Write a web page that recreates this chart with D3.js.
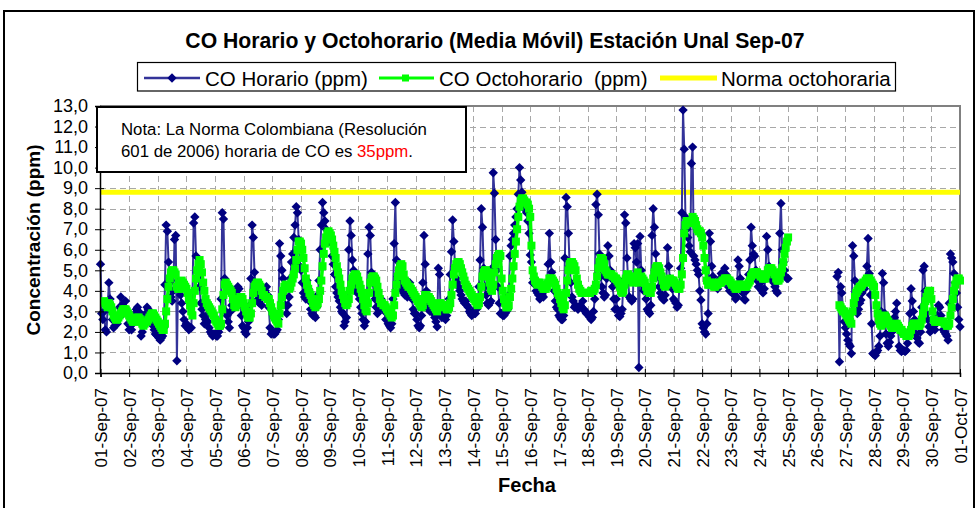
<!DOCTYPE html>
<html>
<head>
<meta charset="utf-8">
<script src="https://cdn.jsdelivr.net/npm/d3@7"></script>
<style>
  html, body { margin: 0; padding: 0; background: #fff; }
  svg { display: block; }
  text { font-family: "Liberation Sans", Arial, sans-serif; }
</style>
</head>
<body>
<svg id="chart" width="978" height="508"></svg>
<script>
// ---------------- DATA ----------------
const _ = null;
const titulo = "CO Horario y Octohorario (Media Móvil) Estación Unal Sep-07";
const serieNombres = ["CO Horario (ppm)", "CO Octohorario  (ppm)", "Norma octohoraria"];
const fechas = ["01-Sep-07","02-Sep-07","03-Sep-07","04-Sep-07","05-Sep-07","06-Sep-07","07-Sep-07","08-Sep-07","09-Sep-07","10-Sep-07",
  "11-Sep-07","12-Sep-07","13-Sep-07","14-Sep-07","15-Sep-07","16-Sep-07","17-Sep-07","18-Sep-07","19-Sep-07","20-Sep-07",
  "21-Sep-07","22-Sep-07","23-Sep-07","24-Sep-07","25-Sep-07","26-Sep-07","27-Sep-07","28-Sep-07","29-Sep-07","30-Sep-07","01-Oct-07"];
const yTicks = [0,1,2,3,4,5,6,7,8,9,10,11,12,13];
const normaOctohoraria = 8.8;

// hourly values, starting 01-Sep-07 00:00
const coHorario = [
  /*01*/ 5.3,2.9,2.6,3.0,2.1,2.0,3.2,4.4,3.6,3.0,2.6,2.2,2.3,2.5,2.4,2.8,3.2,3.7,3.3,2.9,3.2,3.5,2.9,2.4,
  /*02*/ 2.1,2.3,2.1,2.4,2.6,2.9,3.1,3.2,3.0,2.9,1.8,2.0,2.3,2.6,2.9,3.2,3.1,2.8,2.9,2.6,2.3,2.1,1.9,1.85,
  /*03*/ 1.8,1.7,1.6,1.7,1.8,2.2,4.3,7.2,6.9,5.4,4.4,3.7,3.5,4.0,6.5,6.7,0.6,4.5,4.2,3.8,3.4,3.0,2.6,2.3,
  /*04*/ 2.4,2.2,2.1,2.2,2.2,3.5,7.3,7.6,5.7,4.9,4.6,4.2,3.4,3.1,2.8,2.4,2.6,2.8,2.5,2.2,2.0,1.9,1.8,1.9,
  /*05*/ 1.9,1.8,1.8,2.0,2.2,3.6,7.8,7.5,4.6,3.0,2.8,2.5,2.2,3.0,3.3,3.5,3.7,3.9,4.0,4.2,4.1,3.4,2.8,2.3,
  /*06*/ 2.2,2.0,1.9,2.2,2.5,3.3,4.6,7.2,6.6,4.9,4.2,3.9,3.6,3.4,3.6,3.3,3.7,3.9,4.0,4.2,3.8,3.2,2.2,1.9,
  /*07*/ 2.0,1.9,1.9,2.0,2.1,2.6,6.3,5.7,5.0,4.6,3.8,3.3,2.9,3.3,3.7,4.6,5.4,5.8,6.6,7.2,8.1,7.8,6.5,5.2,
  /*08*/ 5.0,4.4,3.9,3.7,3.6,4.5,4.1,3.5,3.1,2.9,2.8,2.8,2.7,3.2,3.8,4.5,6.0,7.2,8.3,7.8,7.4,7.0,6.6,6.4,
  /*09*/ 6.4,6.5,5.7,5.3,4.8,4.2,3.9,3.7,3.5,3.2,3.0,2.9,2.3,2.5,2.7,3.5,6.0,7.4,6.7,5.5,5.0,4.6,4.2,3.9,
  /*10*/ 4.0,3.6,3.2,2.9,2.6,2.3,2.5,3.4,5.8,7.1,6.7,4.9,4.4,3.9,3.6,3.2,2.9,3.1,3.4,3.6,3.3,3.3,3.0,2.6,
  /*11*/ 2.6,2.4,2.3,2.2,2.4,3.6,6.3,8.3,5.5,4.7,4.5,4.4,4.2,4.0,3.9,3.8,4.5,3.7,4.2,4.4,4.0,3.6,3.1,2.9,
  /*12*/ 2.9,2.6,2.3,2.2,2.3,2.8,4.4,6.7,5.3,4.0,3.4,3.1,3.0,3.1,3.2,2.9,2.7,2.5,2.25,5.1,4.8,2.8,2.7,2.9,
  /*13*/ 2.7,2.6,2.8,3.1,3.6,4.8,5.9,7.45,6.4,5.2,4.6,4.4,4.2,4.0,3.8,3.6,3.5,3.4,3.5,3.3,3.2,3.0,2.9,2.8,
  /*14*/ 3.0,2.9,2.9,3.1,3.3,4.2,5.5,8.0,7.1,5.1,4.2,3.8,3.4,3.3,3.4,3.5,5.1,9.75,8.75,6.5,5.0,4.2,3.4,2.9,
  /*15*/ 2.9,2.8,2.8,2.9,3.0,3.1,3.8,5.7,6.2,6.5,6.8,7.2,7.6,8.0,8.7,10.0,9.4,8.8,8.2,8.0,8.2,7.8,7.4,6.8,
  /*16*/ 5.75,5.4,4.4,4.6,4.3,4.0,3.9,3.8,3.6,3.7,3.8,3.7,4.0,4.2,4.4,5.3,6.8,5.4,4.9,4.4,4.0,3.5,3.2,3.1,
  /*17*/ 2.8,2.7,2.6,2.6,2.8,5.6,8.55,8.1,6.8,5.2,4.4,3.7,3.5,3.2,3.3,3.2,3.1,3.2,3.3,3.2,3.5,3.1,3.0,2.9,
  /*18*/ 2.9,2.8,2.7,2.6,2.7,3.0,3.6,8.2,8.7,7.7,5.8,4.7,4.2,3.9,3.7,3.8,4.6,6.2,5.7,5.0,4.6,4.2,3.6,3.1,
  /*19*/ 3.6,3.1,2.8,2.75,2.9,3.1,4.5,7.7,7.3,5.6,4.5,3.7,3.6,3.5,3.6,6.3,6.1,5.4,6.3,0.27,6.65,5.0,4.3,4.0,
  /*20*/ 4.1,3.6,3.1,3.0,2.9,3.3,6.7,8.0,7.1,5.8,5.0,4.7,4.2,3.9,3.7,3.6,3.55,3.8,4.5,6.1,5.2,4.6,4.3,4.1,
  /*21*/ 3.6,3.5,3.4,3.2,3.3,4.2,5.1,7.8,12.8,10.9,7.6,7.0,6.6,6.2,5.9,10.2,11.0,5.7,5.5,5.3,5.0,4.8,4.0,3.55,
  /*22*/ 2.4,2.2,2.0,1.9,2.4,2.9,6.8,6.4,5.2,4.7,4.4,4.3,4.2,4.1,4.4,4.6,4.85,4.7,4.9,5.1,4.8,4.5,4.2,4.0,
  /*23*/ 4.0,3.9,3.9,3.8,3.6,3.7,5.5,5.2,4.6,4.2,3.9,3.6,3.55,4.0,4.3,4.8,5.5,7.1,6.2,5.8,5.7,5.0,4.5,4.2,
  /*24*/ 4.2,4.4,4.0,3.9,4.1,4.6,6.65,6.0,5.2,4.8,4.6,4.5,4.4,4.2,4.0,3.9,4.5,6.8,8.25,6.0,5.4,5.0,4.7,4.6,
  /*25*/ 4.6,_,_,_,_,_,_,_,_,_,_,_,_,_,_,_,_,_,_,_,_,_,_,_,
  /*26*/ _,_,_,_,_,_,_,_,_,_,_,_,_,_,_,_,_,4.7,4.9,0.55,4.2,3.9,3.1,2.5,
  /*27*/ 2.2,1.9,1.6,1.4,1.3,0.95,6.2,5.7,4.5,3.6,2.9,3.1,3.4,3.55,3.9,4.2,4.1,4.5,5.2,6.55,4.85,3.8,2.4,0.95,
  /*28*/ 0.9,0.85,1.0,1.1,1.3,1.8,3.0,4.85,4.4,2.9,1.9,1.45,1.3,1.5,1.8,2.0,2.25,2.7,3.0,3.4,2.2,1.3,1.1,1.05,
  /*29*/ 1.1,1.1,1.05,1.1,1.45,2.0,2.9,4.1,3.5,3.0,2.6,1.9,1.7,1.5,1.45,2.0,3.2,5.0,5.2,4.0,2.9,2.6,2.25,2.0,
  /*30*/ 2.2,2.6,2.3,2.1,2.4,2.8,3.3,3.2,2.8,2.5,2.1,2.0,1.9,1.8,1.6,3.4,5.8,5.6,5.4,4.85,4.4,3.9,3.2,2.6,
  /*01-Oct*/ 2.25
];

const coOctohorario = [
  /*01*/ _,_,_,3.5,3.4,3.3,3.2,3.4,3.3,3.2,3.0,2.8,2.7,2.6,2.6,2.7,2.8,2.9,3.0,3.1,3.1,3.1,3.0,2.9,
  /*02*/ 2.8,2.7,2.6,2.5,2.5,2.5,2.6,2.7,2.7,2.6,2.5,2.4,2.3,2.4,2.5,2.5,2.6,2.7,2.8,2.9,2.9,2.8,2.7,2.6,
  /*03*/ 2.5,2.4,2.3,2.2,2.1,2.1,2.4,3.0,3.6,4.2,4.6,4.9,5.0,5.0,4.9,4.8,4.2,4.1,4.1,4.3,4.5,4.4,4.3,4.2,
  /*04*/ 4.1,3.9,3.6,3.3,3.0,2.8,3.4,4.0,4.6,5.0,5.3,5.5,5.3,4.9,4.4,4.0,3.6,3.4,3.3,3.2,3.1,3.0,2.9,2.8,
  /*05*/ 2.6,2.5,2.4,2.3,2.3,2.4,3.1,3.8,4.3,4.4,4.3,4.2,4.1,4.0,3.9,3.6,3.3,3.2,3.3,3.4,3.6,3.7,3.7,3.6,
  /*06*/ 3.4,3.2,3.0,2.8,2.7,2.7,2.9,3.4,3.9,4.2,4.3,4.4,4.4,4.3,4.2,4.0,3.8,3.8,3.7,3.7,3.6,3.6,3.4,3.2,
  /*07*/ 3.0,2.8,2.7,2.6,2.5,2.4,2.9,3.3,3.7,4.0,4.2,4.3,4.3,4.2,4.1,4.2,4.4,4.6,4.8,5.1,5.5,6.0,6.4,6.4,
  /*08*/ 6.3,6.0,5.6,5.1,4.6,4.3,4.1,3.9,3.8,3.6,3.4,3.3,3.2,3.3,3.4,3.6,4.0,4.5,5.2,5.8,6.3,6.6,6.8,6.9,
  /*09*/ 6.8,6.7,6.5,6.2,5.9,5.6,5.2,4.9,4.6,4.3,4.0,3.8,3.6,3.4,3.3,3.4,3.6,4.0,4.3,4.6,4.7,4.8,4.8,4.7,
  /*10*/ 4.5,4.3,4.1,3.9,3.6,3.3,3.1,3.0,3.4,3.9,4.4,4.6,4.7,4.7,4.6,4.5,4.2,3.9,3.6,3.4,3.4,3.3,3.3,3.2,
  /*11*/ 3.1,3.0,2.9,2.8,2.7,2.8,3.3,3.9,4.3,4.7,5.0,5.2,5.3,5.2,4.8,4.5,4.4,4.3,4.2,4.2,4.1,4.0,3.9,3.8,
  /*12*/ 3.7,3.6,3.5,3.4,3.3,3.2,3.3,3.6,3.8,3.8,3.7,3.7,3.6,3.5,3.4,3.3,3.2,3.1,3.0,3.2,3.4,3.4,3.3,3.3,
  /*13*/ 3.3,3.2,3.1,3.1,3.2,3.4,3.8,4.3,4.8,5.1,5.3,5.4,5.4,5.3,5.1,4.9,4.7,4.5,4.3,4.2,4.1,4.0,3.9,3.8,
  /*14*/ 3.7,3.6,3.5,3.4,3.3,3.4,3.7,4.2,4.7,4.9,5.0,5.0,4.9,4.7,4.4,4.1,4.0,4.3,4.9,5.3,5.6,5.7,5.8,5.7,
  /*15*/ 4.6,4.0,3.6,3.4,3.2,3.2,3.3,3.7,4.1,4.6,5.2,5.8,6.4,7.0,7.6,8.1,8.4,8.5,8.5,8.4,8.3,8.3,8.2,8.0,
  /*16*/ 7.6,6.2,5.0,4.7,4.5,4.4,4.3,4.4,4.4,4.3,4.2,4.1,4.1,4.1,4.2,4.4,4.6,4.6,4.6,4.5,4.4,4.3,4.1,3.9,
  /*17*/ 3.8,3.6,3.4,3.2,3.1,3.3,3.9,4.5,5.0,5.3,5.4,5.4,5.3,5.2,5.0,4.6,4.3,4.1,4.0,3.9,3.9,3.9,3.9,3.9,
  /*18*/ 3.9,3.9,3.9,4.0,4.0,4.0,4.1,4.3,4.7,5.1,5.4,5.6,5.6,5.5,5.3,5.0,4.9,4.8,4.8,4.8,4.8,4.7,4.7,4.6,
  /*19*/ 4.6,4.5,4.4,4.2,4.0,3.9,4.0,4.3,4.6,4.8,4.8,4.7,4.6,4.5,4.4,4.5,4.6,4.7,4.9,4.4,4.6,4.7,4.6,4.5,
  /*20*/ 4.4,4.2,4.0,4.0,3.9,3.9,4.2,4.6,4.9,5.1,5.2,5.2,5.1,4.9,4.7,4.5,4.3,4.2,4.3,4.4,4.5,4.6,4.5,4.5,
  /*21*/ 4.5,4.4,4.3,4.2,4.1,4.1,4.3,4.8,5.6,6.8,7.2,7.4,7.4,7.3,7.3,7.4,7.6,7.5,7.4,7.2,7.0,6.9,6.9,6.8,
  /*22*/ 6.6,6.2,5.6,5.0,4.5,4.3,4.3,4.4,4.4,4.3,4.2,4.2,4.3,4.3,4.4,4.4,4.4,4.5,4.5,4.6,4.6,4.6,4.5,4.5,
  /*23*/ 4.4,4.3,4.3,4.2,4.1,4.1,4.2,4.3,4.3,4.3,4.2,4.2,4.2,4.2,4.3,4.4,4.5,4.7,4.8,4.9,4.9,4.9,4.9,4.8,
  /*24*/ 4.8,4.7,4.7,4.6,4.6,4.6,4.8,5.0,5.1,5.1,5.1,5.0,4.9,4.8,4.6,4.5,4.5,4.6,4.9,5.1,5.4,5.8,6.1,6.4,
  /*25*/ 6.6,_,_,_,_,_,_,_,_,_,_,_,_,_,_,_,_,_,_,_,_,_,_,_,
  /*26*/ _,_,_,_,_,_,_,_,_,_,_,_,_,_,_,_,_,_,_,3.3,3.2,3.1,3.0,3.0,
  /*27*/ 2.9,2.8,2.7,2.6,2.5,2.4,3.0,3.4,3.7,3.9,4.0,4.1,4.2,4.2,4.3,4.4,4.4,4.5,4.6,4.6,4.6,4.5,4.4,4.3,
  /*28*/ 4.2,3.8,3.3,2.9,2.6,2.4,2.3,2.4,2.6,2.8,2.7,2.6,2.5,2.4,2.3,2.2,2.2,2.2,2.3,2.4,2.3,2.2,2.1,2.1,
  /*29*/ 2.0,1.9,1.9,1.8,1.8,1.8,1.9,2.1,2.3,2.4,2.4,2.4,2.3,2.3,2.3,2.4,2.6,2.9,3.2,3.5,3.7,3.9,4.0,4.0,
  /*30*/ 3.6,3.0,2.6,2.5,2.5,2.5,2.5,2.5,2.5,2.5,2.5,2.4,2.4,2.3,2.3,2.4,2.8,3.2,3.6,4.0,4.3,4.5,4.6,4.6,
  /*01-Oct*/ 4.5
];

// ---------------- CHART ----------------
const svg = d3.select("#chart");
const M = { left: 100, right: 960, top: 106, bottom: 373 };
const t0 = Date.UTC(2007, 8, 1, 0);
const hourDate = i => new Date(t0 + i * 3600 * 1000);
const dayDates = fechas.map((f, i) => new Date(t0 + i * 24 * 3600 * 1000));

const x = d3.scaleUtc().domain([dayDates[0], dayDates[dayDates.length - 1]]).range([M.left + 0.5, M.right]);
const y = d3.scaleLinear().domain([0, 13]).range([M.bottom, M.top]);

// outer chart border
svg.append("rect").attr("x", 4).attr("y", 11).attr("width", 970).attr("height", 500)
  .attr("fill", "#fff").attr("stroke", "#000").attr("stroke-width", 2);

// title
svg.append("text").attr("x", 495).attr("y", 48).attr("text-anchor", "middle")
  .attr("font-size", 21.2).attr("font-weight", "bold").attr("fill", "#000").text(titulo);

// plot background
svg.append("rect").attr("x", M.left).attr("y", M.top).attr("width", M.right - M.left)
  .attr("height", M.bottom - M.top).attr("fill", "#fff");

// gridlines
const grid = svg.append("g").attr("stroke", "#a8a8a8").attr("stroke-width", 1).attr("stroke-dasharray", "6,4");
yTicks.filter(v => v > 0).forEach(v => {
  grid.append("line").attr("x1", M.left).attr("x2", M.right).attr("y1", Math.round(y(v)) + 0.5).attr("y2", Math.round(y(v)) + 0.5);
});
dayDates.slice(1, -1).forEach(d => {
  grid.append("line").attr("x1", Math.round(x(d)) + 0.5).attr("x2", Math.round(x(d)) + 0.5).attr("y1", M.top).attr("y2", M.bottom);
});

// plot frame (gray top & right)
svg.append("path").attr("d", `M${M.left},${M.top}H${M.right}V${M.bottom}`)
  .attr("fill", "none").attr("stroke", "#808080").attr("stroke-width", 2);

// norma line
svg.append("line").attr("x1", M.left).attr("x2", M.right).attr("y1", y(normaOctohoraria)).attr("y2", y(normaOctohoraria))
  .attr("stroke", "#ffff00").attr("stroke-width", 5);

// series
const horarioPts = coHorario.map((v, i) => ({ d: hourDate(i), v }));
const octoPts = coOctohorario.map((v, i) => ({ d: hourDate(i), v }));
const line = d3.line().defined(p => p.v != null).x(p => x(p.d)).y(p => y(p.v));

svg.append("path").datum(horarioPts).attr("d", line).attr("fill", "none")
  .attr("stroke", "#333399").attr("stroke-width", 2).attr("stroke-linejoin", "round");
const diamond = "M0,-4.7L4.7,0L0,4.7L-4.7,0Z";
svg.append("g").selectAll("path").data(horarioPts.filter(p => p.v != null)).join("path")
  .attr("d", diamond).attr("transform", p => `translate(${x(p.d)},${y(p.v)})`).attr("fill", "#000080");

svg.append("path").datum(octoPts).attr("d", line).attr("fill", "none")
  .attr("stroke", "#00ff00").attr("stroke-width", 3.5).attr("stroke-linejoin", "round");
svg.append("g").selectAll("rect").data(octoPts.filter(p => p.v != null)).join("rect")
  .attr("x", p => x(p.d) - 4).attr("y", p => y(p.v) - 4).attr("width", 8).attr("height", 8).attr("fill", "#00ff00");

// axes
const yAxis = svg.append("g").attr("transform", `translate(${M.left},0)`)
  .call(d3.axisLeft(y).tickValues(yTicks).tickSize(5).tickPadding(7)
    .tickFormat(v => d3.format(".1f")(v).replace(".", ",")));
yAxis.select(".domain").attr("stroke", "#000").attr("stroke-width", 1.5);
yAxis.selectAll(".tick line").attr("stroke", "#000").attr("x2", -5).attr("x1", 4);
yAxis.selectAll(".tick text").attr("font-size", 18).attr("fill", "#000")
  .attr("font-family", "'Liberation Sans', Arial, sans-serif").attr("x", -12);

const xAxis = svg.append("g").attr("transform", `translate(0,${M.bottom})`)
  .call(d3.axisBottom(x).tickValues(dayDates).tickSize(4).tickFormat((d, i) => fechas[i]));
xAxis.select(".domain").attr("stroke", "#000").attr("stroke-width", 1.5);
xAxis.selectAll(".tick line").attr("stroke", "#000").attr("y1", -4).attr("y2", 4);
xAxis.selectAll(".tick text").attr("font-size", 17).attr("fill", "#000")
  .attr("font-family", "'Liberation Sans', Arial, sans-serif")
  .attr("text-anchor", "end").attr("transform", "rotate(-90)")
  .attr("x", -15).attr("y", 0).attr("dy", "0.36em");

// axis titles
svg.append("text").attr("transform", "translate(40,240) rotate(-90)").attr("text-anchor", "middle")
  .attr("font-size", 19).attr("font-weight", "bold").text("Concentración (ppm)");
svg.append("text").attr("x", 527).attr("y", 492).attr("text-anchor", "middle")
  .attr("font-size", 20).attr("font-weight", "bold").text("Fecha");

// note box
const note = svg.append("g");
note.append("rect").attr("x", 97).attr("y", 107).attr("width", 369).attr("height", 65)
  .attr("fill", "#fff").attr("stroke", "#000").attr("stroke-width", 2);
note.append("text").attr("x", 121).attr("y", 135).attr("font-size", 16.8).text("Nota: La Norma Colombiana (Resolución");
const l2 = note.append("text").attr("x", 121).attr("y", 157).attr("font-size", 16.8);
l2.append("tspan").text("601 de 2006) horaria de CO es ");
l2.append("tspan").attr("fill", "#ff0000").text("35ppm");
l2.append("tspan").text(".");

// legend
const lg = svg.append("g");
lg.append("rect").attr("x", 137.5).attr("y", 62.5).attr("width", 758).attr("height", 28.5)
  .attr("fill", "#fff").attr("stroke", "#000").attr("stroke-width", 1.2);
const ly = 78;
lg.append("line").attr("x1", 144).attr("x2", 200).attr("y1", ly).attr("y2", ly).attr("stroke", "#333399").attr("stroke-width", 2.5);
lg.append("path").attr("d", diamond).attr("transform", `translate(172,${ly})`).attr("fill", "#000080");
lg.append("text").attr("x", 205).attr("y", 86).attr("font-size", 20.5).text(serieNombres[0]);
lg.append("line").attr("x1", 379).attr("x2", 434).attr("y1", ly).attr("y2", ly).attr("stroke", "#00ff00").attr("stroke-width", 3);
lg.append("rect").attr("x", 402).attr("y", ly - 3.5).attr("width", 7).attr("height", 7).attr("fill", "#00ff00");
lg.append("text").attr("x", 439).attr("y", 86).attr("font-size", 20.5).attr("xml:space", "preserve")
  .style("white-space", "pre").text(serieNombres[1]);
lg.append("line").attr("x1", 660).attr("x2", 717).attr("y1", ly).attr("y2", ly).attr("stroke", "#ffff00").attr("stroke-width", 5);
lg.append("text").attr("x", 721).attr("y", 86).attr("font-size", 20.5).text(serieNombres[2]);
</script>
</body>
</html>
